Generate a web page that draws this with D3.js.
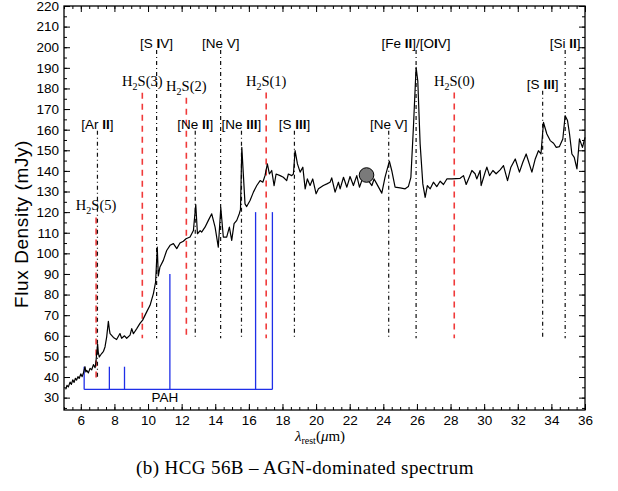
<!DOCTYPE html>
<html>
<head>
<meta charset="utf-8">
<script src="https://cdn.jsdelivr.net/npm/d3@7"></script>
<style>
  body { margin: 0; background: #fff; }
</style>
</head>
<body>
<div id="chart"></div>
<script>
// HCG 56B mid-IR spectrum (AGN-dominated)

// Spectrum: rest wavelength (um) and flux density (mJy)
const specWave = [
  5.1, 5.18, 5.26, 5.36, 5.44, 5.52, 5.6, 5.68, 5.75, 5.83, 5.9, 6.0, 6.08, 6.15, 6.25, 6.3,
  6.35, 6.45, 6.55, 6.65, 6.75, 6.85, 6.9,
  6.94, 7.0, 7.04, 7.1, 7.24, 7.35, 7.44, 7.54, 7.64, 7.7, 7.74, 7.94, 8.13, 8.33, 8.43, 8.6,
  8.73, 8.93, 9.03, 9.13, 9.33, 9.52, 9.68, 9.92, 10.12, 10.32, 10.45, 10.55, 10.61, 10.71,
  10.91, 11.11, 11.31, 11.51, 11.71, 11.9, 12.1, 12.26, 12.5, 12.7, 12.84, 12.94, 13.1, 13.19,
  13.39, 13.59, 13.79, 13.99, 14.18, 14.33, 14.48, 14.68, 14.84, 14.98, 15.12, 15.28, 15.43,
  15.5, 15.58, 15.67, 15.77, 15.87, 16.07, 16.27, 16.47, 16.67, 16.83, 16.96, 17.1, 17.22,
  17.36, 17.5, 17.62, 17.86, 18.05, 18.25, 18.35, 18.55, 18.65, 18.75, 18.89, 19.05, 19.21,
  19.35, 19.48, 19.64, 19.8, 20.0, 20.14, 20.43, 20.64, 20.83, 20.93, 21.13, 21.33, 21.43,
  21.63, 21.83, 22.02, 22.22, 22.42, 22.58, 22.72, 22.92, 23.11, 23.32, 23.45, 23.61, 23.91,
  24.1, 24.36, 24.5, 24.7, 25.0, 25.3, 25.49, 25.64, 25.79, 25.95, 26.05, 26.19, 26.35, 26.49,
  26.62, 26.79, 26.98, 27.18, 27.38, 27.58, 27.78, 28.08, 28.57, 28.77, 28.93, 29.13, 29.27,
  29.46, 29.56, 29.76, 29.82, 30.06, 30.16, 30.32, 30.52, 30.71, 30.95, 31.15, 31.39, 31.59,
  31.85, 32.1, 32.3, 32.5, 32.84, 33.04, 33.23, 33.38, 33.53, 33.73, 33.93, 34.13, 34.29,
  34.48, 34.68, 34.82, 34.96, 35.08, 35.22, 35.36, 35.52, 35.67, 35.85, 36.0
];
const specFlux = [
  34, 36, 35.2, 37.5, 36.4, 38.6, 37.4, 39.4, 38.5, 40.2, 39.3, 41.5, 40.2, 41.8, 45, 42.5,
  43.2, 42, 44.2, 43.5, 46, 44.5, 47.4,
  51, 56, 52, 49.7, 51.4, 52.5, 54.6, 59.5, 67, 63, 61.1, 59.2, 58.2, 61.1, 58.8, 60,
  58.8, 60.3, 63.5, 61, 63.5, 66, 67.6, 71.6, 74.8, 80.5, 86, 103, 89, 93.4,
  96.6, 101.4, 103.9, 104.7, 102.3, 105, 105.9, 107.1, 107.9, 111.1, 123.7, 109.5, 111, 110.3,
  112.7, 116, 119.2, 112.7, 103, 122.1, 107.9, 107.9, 112.7, 106.3, 114.4, 116, 119.2,
  121.2, 151.4, 138.5, 124, 122.7, 125.6, 129.7, 132.9, 135.3, 134.5, 137.7, 143.4, 138.5,
  140.2, 132.9, 138.5, 137.7, 136.9, 135.3, 138.5, 137.7, 138.5, 149.8, 143.4, 139.4, 141.8,
  131.3, 136.1, 132.9, 136.1, 128.9, 131.3, 132.9, 133.7, 134.5, 136.6, 129.7, 134.5, 131.3,
  136.9, 132.1, 137.3, 132.9, 137.7, 132.1, 135.3, 137.7, 135.3, 132.9, 136.1, 133.7, 129.2,
  136.9, 144.7, 140.2, 132.1, 131.8, 131.3, 132.4, 136.9, 161.1, 190.2, 183.7, 153.1, 133.7, 127.2,
  132.9, 131.3, 134.5, 132.4, 135, 133.4, 136.1, 136.1, 136.4, 137.7, 133.4, 137.3, 140.2,
  138.6, 136.1, 140.2, 132.9, 139.4, 141.8, 137.7, 140.2, 138.6, 140.5, 142.6, 135.3, 141.8,
  145.8, 139.4, 144.2, 148.2, 139.4, 145.8, 149.8, 148.2, 163.5, 157.9, 154.7, 153.4, 151.4,
  151.8, 155.5, 166.8, 164.4, 157.9, 148.2, 146.6, 141, 155.5, 151.4, 156.3
];

// Emission line markers
const lineNames = ["H2S(5)", "[Ar II]", "H2S(3)", "[S IV]", "H2S(2)", "[Ne II]", "[Ne V]",
  "[Ne III]", "H2S(1)", "[S III]", "[Ne V]", "[Fe II]/[OIV]", "H2S(0)", "[S III]", "[Si II]"];
const lineWave = [6.91, 6.99, 9.66, 10.51, 12.28, 12.81, 14.32, 15.56, 17.03, 18.71, 24.32,
  25.95, 28.22, 33.48, 34.82];
const lineIsH2 = [true, false, true, false, true, false, false, false, true, false, false,
  false, true, false, false];
const lineTop = [117.4, 159.5, 177.9, 198.7, 175.5, 159.5, 198.7, 159.5, 178, 159.5, 159.5,
  198.7, 178, 178.9, 198.7];
const lineBottom = [39.5, 39.5, 58.8, 58.8, 58.8, 58.8, 58.8, 58.8, 58.8, 58.8, 58.8,
  58.8, 58.8, 58.8, 58.8];

// PAH feature markers
const pahWave = [6.2, 7.7, 8.6, 11.3, 16.4, 17.4];
const pahTop = [45, 45, 45, 90, 120, 120];
const pahBase = 34;

// Photometric point
const photWave = [23.0];
const photFlux = [138];

// Ticks
const xMajor = d3.range(6, 37, 2);
const xMinor = d3.range(5, 36.01, 0.5);
const yMajor = d3.range(30, 221, 10);
const yMinor = d3.range(25, 220.01, 5);

const svgWidth = 618;
const svgHeight = 491;
const sans = "'Liberation Sans', Arial, Helvetica, sans-serif";
const serif = "'Liberation Serif', 'Times New Roman', serif";

const svg = d3.select("#chart")
  .append("svg")
  .attr("width", svgWidth)
  .attr("height", svgHeight);

const x = d3.scaleLinear().domain([5, 36]).range([64, 585]);
const y = d3.scaleLinear().domain([24, 220]).range([410, 6]);

// Axes, ticks pointing inward on all four sides
function styleAxis(g) {
  g.select(".domain").remove();
  g.selectAll(".tick line").attr("stroke", "#000").attr("stroke-width", 1);
  g.selectAll(".tick text").attr("font-family", sans).attr("font-size", 13.5).attr("fill", "#000");
}

svg.append("g")
  .attr("transform", "translate(0,410)")
  .call(d3.axisBottom(x).tickValues(xMinor).tickSize(-3).tickFormat(""))
  .call(styleAxis);
svg.append("g")
  .attr("transform", "translate(0,410)")
  .call(d3.axisBottom(x).tickValues(xMajor).tickSize(-6).tickPadding(5).tickFormat(d3.format("d")))
  .call(styleAxis);
svg.append("g")
  .attr("transform", "translate(0,6)")
  .call(d3.axisTop(x).tickValues(xMinor).tickSize(-3).tickFormat(""))
  .call(styleAxis);
svg.append("g")
  .attr("transform", "translate(0,6)")
  .call(d3.axisTop(x).tickValues(xMajor).tickSize(-6).tickFormat(""))
  .call(styleAxis);

svg.append("g")
  .attr("transform", "translate(64,0)")
  .call(d3.axisLeft(y).tickValues(yMinor).tickSize(-3).tickFormat(""))
  .call(styleAxis);
svg.append("g")
  .attr("transform", "translate(64,0)")
  .call(d3.axisLeft(y).tickValues(yMajor).tickSize(-6).tickPadding(5).tickFormat(d3.format("d")))
  .call(styleAxis);
svg.append("g")
  .attr("transform", "translate(585,0)")
  .call(d3.axisRight(y).tickValues(yMinor).tickSize(-3).tickFormat(""))
  .call(styleAxis);
svg.append("g")
  .attr("transform", "translate(585,0)")
  .call(d3.axisRight(y).tickValues(yMajor).tickSize(-6).tickFormat(""))
  .call(styleAxis);

// Frame
svg.append("rect")
  .attr("x", x(5)).attr("y", y(220))
  .attr("width", x(36) - x(5)).attr("height", y(24) - y(220))
  .attr("fill", "none").attr("stroke", "#000").attr("stroke-width", 1.3);

// Line markers
const lines = lineNames.map((name, i) => ({
  name, wave: lineWave[i], h2: lineIsH2[i], top: lineTop[i], bottom: lineBottom[i]
}));

svg.append("g").selectAll("line")
  .data(lines)
  .join("line")
    .attr("x1", d => x(d.wave)).attr("x2", d => x(d.wave))
    .attr("y1", d => y(d.top)).attr("y2", d => y(d.bottom))
    .attr("stroke", d => d.h2 ? "#f03a3a" : "#111")
    .attr("stroke-width", d => d.h2 ? 1.6 : 1.2)
    .attr("stroke-dasharray", d => d.h2 ? "6,5" : "4,3,1,3");

// Labels: roman numerals in bold, H2 labels in serif with subscript
const labels = svg.append("g").selectAll("text")
  .data(lines)
  .join("text")
    .attr("x", d => x(d.wave))
    .attr("y", d => y(d.top) - (d.h2 ? 7 : 2))
    .attr("text-anchor", "middle")
    .attr("fill", "#000");

labels.each(function(d) {
  const t = d3.select(this);
  if (d.h2) {
    t.attr("font-family", serif).attr("font-size", 14.5);
    t.append("tspan").text("H");
    t.append("tspan").attr("dy", 4).attr("font-size", 10).text("2");
    t.append("tspan").attr("dy", -4).text(d.name.slice(2));
  } else {
    t.attr("font-family", sans).attr("font-size", 13.5);
    const parts = d.name.split(/(I+)/);
    parts.forEach(p => {
      if (!p) return;
      t.append("tspan").attr("font-weight", /^I+$/.test(p) ? "bold" : null).text(p);
    });
  }
});

// PAH markers
const pahG = svg.append("g")
  .attr("stroke", "#1f2fe8")
  .attr("stroke-width", 1.3)
  .attr("fill", "none");

pahG.append("line")
  .attr("x1", x(d3.min(pahWave))).attr("x2", x(d3.max(pahWave)))
  .attr("y1", y(pahBase)).attr("y2", y(pahBase));

pahG.selectAll(".pah")
  .data(pahWave.map((w, i) => ({ w, top: pahTop[i] })))
  .join("line")
    .attr("class", "pah")
    .attr("x1", d => x(d.w)).attr("x2", d => x(d.w))
    .attr("y1", y(pahBase)).attr("y2", d => y(d.top));

svg.append("text")
  .attr("x", x(11.0))
  .attr("y", y(pahBase) + 13)
  .attr("text-anchor", "middle")
  .attr("font-family", sans)
  .attr("font-size", 13.5)
  .text("PAH");

// Spectrum
const spec = specWave.map((w, i) => [w, specFlux[i]]);
svg.append("path")
  .datum(spec)
  .attr("fill", "none")
  .attr("stroke", "#000")
  .attr("stroke-width", 1.2)
  .attr("stroke-linejoin", "round")
  .attr("d", d3.line().x(d => x(d[0])).y(d => y(d[1])));

// Photometric point
svg.append("g").selectAll("circle")
  .data(photWave.map((w, i) => [w, photFlux[i]]))
  .join("circle")
    .attr("cx", d => x(d[0]))
    .attr("cy", d => y(d[1]))
    .attr("r", 7.3)
    .attr("fill", "#7a7a7a")
    .attr("stroke", "#000")
    .attr("stroke-width", 1);

// Axis titles
const xt = svg.append("text")
  .attr("x", 320).attr("y", 441)
  .attr("text-anchor", "middle")
  .attr("font-family", serif)
  .attr("font-size", 15);
xt.append("tspan").attr("font-style", "italic").text("λ");
xt.append("tspan").attr("dy", 3).attr("font-size", 10).text("rest");
xt.append("tspan").attr("dy", -3).text("(");
xt.append("tspan").attr("font-style", "italic").text("μ");
xt.append("tspan").text("m)");

svg.append("text")
  .attr("transform", "translate(28,224) rotate(-90)")
  .attr("text-anchor", "middle")
  .attr("font-family", sans)
  .attr("font-size", 19)
  .attr("letter-spacing", 0.6)
  .text("Flux Density (mJy)");

// Caption
svg.append("text")
  .attr("x", 305).attr("y", 474)
  .attr("text-anchor", "middle")
  .attr("font-family", serif)
  .attr("font-size", 19)
  .attr("letter-spacing", 0.4)
  .text("(b) HCG 56B – AGN-dominated spectrum");
</script>
</body>
</html>
